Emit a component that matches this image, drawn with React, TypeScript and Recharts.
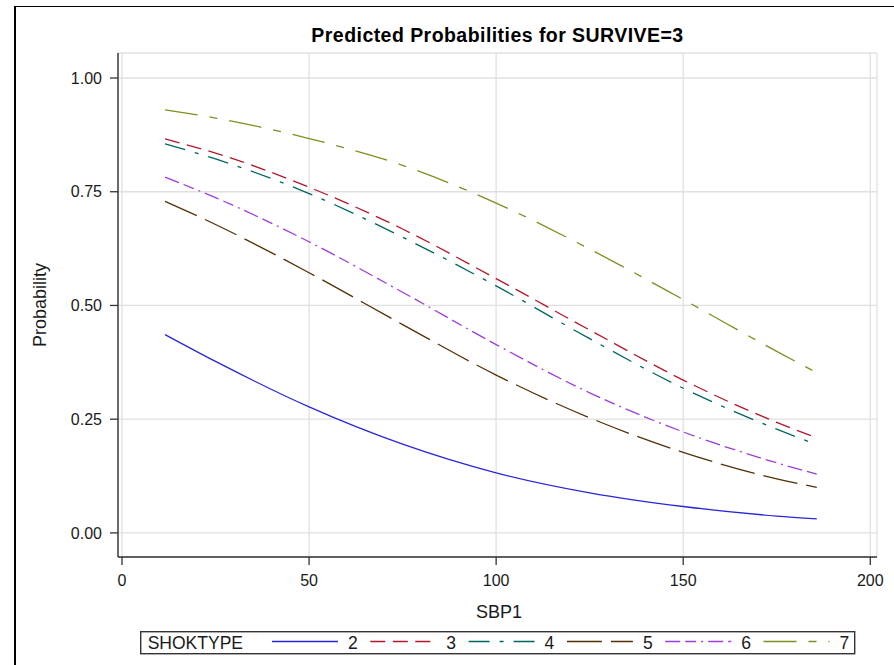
import React from 'react';
import { LineChart, Line, XAxis, YAxis, CartesianGrid, Legend, Label } from 'recharts';

// SBP1 values where predictions were read
const sbp1 = [11.5, 25, 50, 75, 100, 125, 150, 175, 185.7];
// Predicted probabilities for SURVIVE=3 by SHOKTYPE
const shok2 = [0.436, 0.377, 0.277, 0.195, 0.132, 0.088, 0.058, 0.037, 0.031];
const shok3 = [0.866, 0.835, 0.760, 0.668, 0.559, 0.446, 0.336, 0.243, 0.209];
const shok4 = [0.855, 0.822, 0.746, 0.650, 0.543, 0.427, 0.318, 0.228, 0.194];
const shok5 = [0.729, 0.678, 0.572, 0.458, 0.347, 0.253, 0.177, 0.119, 0.100];
const shok6 = [0.782, 0.737, 0.640, 0.529, 0.414, 0.308, 0.222, 0.154, 0.129];
const shok7 = [0.930, 0.912, 0.867, 0.808, 0.725, 0.624, 0.513, 0.399, 0.352];

const shokLevels = ['2', '3', '4', '5', '6', '7'];
const xTicks = [0, 50, 100, 150, 200];
const yTicks = [0, 0.25, 0.5, 0.75, 1];

const seriesValues = [shok2, shok3, shok4, shok5, shok6, shok7];
const seriesStyle = [
  { color: '#2A25D9', dash: undefined as string | undefined },
  { color: '#B2182B', dash: '15 7.5' },
  { color: '#01665E', dash: '21 10 4 10' },
  { color: '#543005', dash: '35 9' },
  { color: '#9D3CDB', dash: '15 5 11 5 2 5' },
  { color: '#7F8E1F', dash: '33 12 8 12' },
];

const data = sbp1.map((x, i) => {
  const row: Record<string, number> = { x };
  shokLevels.forEach((k, j) => {
    row['s' + k] = seriesValues[j][i];
  });
  return row;
});

const FONT = '"Liberation Sans", Arial, Helvetica, sans-serif';
const TEXT = '#1a1a1a';
const FRAME = '#333333';

const renderLegend = () => (
  <svg width={716} height={24} style={{ display: 'block', overflow: 'visible' }}>
    <rect x={0.7} y={0.7} width={714} height={22} fill="#ffffff" stroke={FRAME} strokeWidth={1.4} />
    <text x={7.7} y={17.6} fontSize={17.5} fontFamily={FONT} fill={TEXT}>
      SHOKTYPE
    </text>
    {shokLevels.map((k, i) => {
      const sx = 132 + i * 98.3;
      return (
        <g key={k}>
          <line
            x1={sx}
            y1={10.5}
            x2={sx + 66}
            y2={10.5}
            stroke={seriesStyle[i].color}
            strokeWidth={1.3}
            strokeDasharray={seriesStyle[i].dash}
          />
          <text x={sx + 76} y={17.6} fontSize={17.5} fontFamily={FONT} fill={TEXT}>
            {k}
          </text>
        </g>
      );
    })}
  </svg>
);

const xLabel = () => (
  <text x={499} y={617.8} textAnchor="middle" fontSize={18} fontFamily={FONT} fill={TEXT}>
    SBP1
  </text>
);

const yLabel = () => (
  <text
    x={45.5}
    y={305}
    textAnchor="middle"
    fontSize={18}
    fontFamily={FONT}
    fill={TEXT}
    transform="rotate(-90 45.5 305)"
  >
    Probability
  </text>
);

const tickStyle = { fontSize: 16, fill: TEXT, fontFamily: FONT };

export default function App() {
  return (
    <div
      style={{
        position: 'absolute',
        left: 0,
        top: 0,
        width: 894,
        height: 665,
        overflow: 'hidden',
        background: '#ffffff',
        fontFamily: FONT,
      }}
    >
      <div
        style={{
          position: 'absolute',
          left: 14,
          top: 6,
          width: 1000,
          height: 1000,
          borderLeft: '2px solid #000',
          borderTop: '1.5px solid #000',
          boxSizing: 'border-box',
        }}
      />
      <div
        style={{
          position: 'absolute',
          left: 118,
          top: 24.9,
          width: 759,
          textAlign: 'center',
          fontSize: 19.5,
          lineHeight: '20px',
          fontWeight: 'bold',
          letterSpacing: '0.45px',
          color: '#000',
          fontFamily: FONT,
          whiteSpace: 'nowrap',
          zIndex: 2,
        }}
      >
        Predicted Probabilities for SURVIVE=3
      </div>
      <div style={{ position: 'absolute', left: 0, top: 0 }}>
        <LineChart
          width={894}
          height={665}
          data={data}
          margin={{ top: 53, right: 17, bottom: 0, left: 0 }}
        >
          <CartesianGrid stroke="#e0e0e0" strokeWidth={1.3} />
          <XAxis
            dataKey="x"
            type="number"
            domain={[-1.07, 201.8]}
            ticks={xTicks}
            interval={0}
            allowDataOverflow
            height={108}
            tickSize={8}
            tickMargin={10}
            tick={tickStyle}
            axisLine={{ stroke: FRAME, strokeWidth: 1.4 }}
            tickLine={{ stroke: FRAME, strokeWidth: 1.3 }}
          >
            <Label content={xLabel} />
          </XAxis>
          <XAxis
            xAxisId="top"
            orientation="top"
            type="number"
            domain={[-1.07, 201.8]}
            allowDataOverflow
            height={0}
            tick={false}
            tickLine={false}
            axisLine={{ stroke: FRAME, strokeWidth: 1.4 }}
          />
          <YAxis
            type="number"
            domain={[-0.053, 1.055]}
            ticks={yTicks}
            interval={0}
            allowDataOverflow
            width={118}
            tickSize={8}
            tickMargin={8}
            tickFormatter={(v: number) => v.toFixed(2)}
            tick={tickStyle}
            axisLine={{ stroke: FRAME, strokeWidth: 1.4 }}
            tickLine={{ stroke: FRAME, strokeWidth: 1.3 }}
          >
            <Label content={yLabel} />
          </YAxis>
          <YAxis
            yAxisId="right"
            orientation="right"
            type="number"
            domain={[-0.053, 1.055]}
            allowDataOverflow
            width={0}
            tick={false}
            tickLine={false}
            axisLine={{ stroke: FRAME, strokeWidth: 1.4 }}
          />
          {shokLevels.map((k, i) => (
            <Line
              key={k}
              type="monotone"
              dataKey={'s' + k}
              name={k}
              stroke={seriesStyle[i].color}
              strokeWidth={1.3}
              strokeDasharray={seriesStyle[i].dash}
              dot={false}
              activeDot={false}
              isAnimationActive={false}
            />
          ))}
          <Legend
            verticalAlign="middle"
            align="center"
            layout="horizontal"
            content={renderLegend}
            wrapperStyle={{ left: 140, top: 631, width: 716, height: 24 }}
          />
        </LineChart>
      </div>
    </div>
  );
}
